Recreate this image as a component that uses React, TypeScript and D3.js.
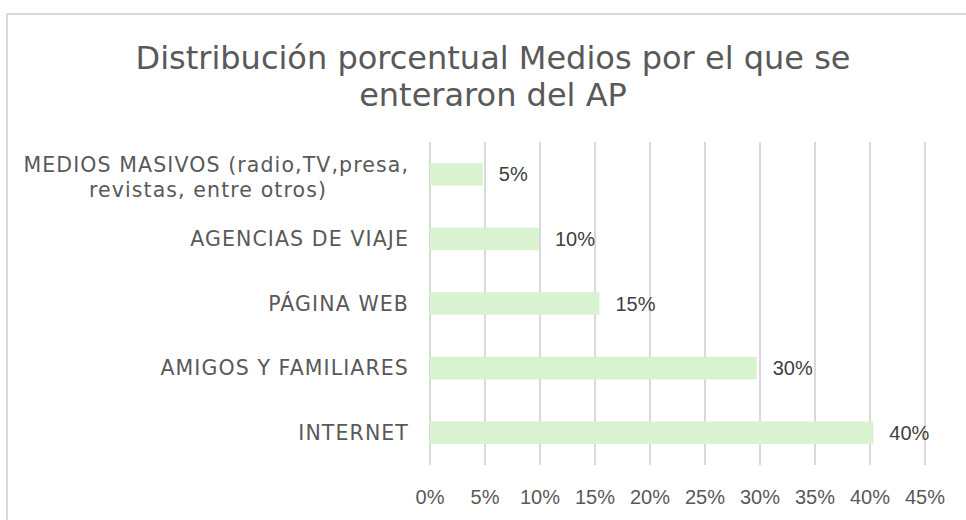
import React from "react";
import * as d3 from "d3";

const categories = [
  "MEDIOS MASIVOS (radio,TV,presa,|revistas, entre otros)",
  "AGENCIAS DE VIAJE",
  "PÁGINA WEB",
  "AMIGOS Y FAMILIARES",
  "INTERNET",
];
const values = [0.048, 0.099, 0.154, 0.297, 0.403];
const ticks = [0, 0.05, 0.1, 0.15, 0.2, 0.25, 0.3, 0.35, 0.4, 0.45];
const titleLines = ["Distribución porcentual Medios por el que se", "enteraron del AP"];

const W = 966;
const H = 520;
const plot = { left: 430, right: 925, top: 142, bottom: 465 };

export default function App() {
  const x = d3.scaleLinear().domain([0, 0.45]).range([plot.left, plot.right]);
  const y = d3
    .scaleBand<string>()
    .domain(categories)
    .range([plot.top, plot.bottom])
    .paddingInner(0.65)
    .paddingOuter(0.325);
  const pct = d3.format(".0%");
  const textGray = "#595959";
  const catFont = "'DejaVu Sans', Verdana, sans-serif";
  const numFont = "'Liberation Sans', Arial, sans-serif";

  return (
    <svg
      width={W}
      height={H}
      style={{ position: "absolute", left: 0, top: 0, background: "#fff" }}
    >
      <rect x={7} y={14} width={W + 20} height={H + 20} fill="#fff" stroke="#d9d9d9" strokeWidth={2} />
      {titleLines.map((t, i) => (
        <text
          key={i}
          x={493}
          y={69 + i * 37}
          textAnchor="middle"
          fontFamily={catFont}
          fontSize={32}
          fill={textGray}
        >
          {t}
        </text>
      ))}
      {ticks.map((t) => (
        <g key={t}>
          <line
            x1={x(t)}
            x2={x(t)}
            y1={plot.top}
            y2={plot.bottom}
            stroke="#d9d9d9"
            strokeWidth={2}
          />
          <text
            x={x(t)}
            y={504}
            textAnchor="middle"
            fontFamily={numFont}
            fontSize={20}
            fill={textGray}
          >
            {pct(t)}
          </text>
        </g>
      ))}
      {categories.map((c, i) => {
        const yc = (y(c) as number) + y.bandwidth() / 2;
        const lines = c.split("|");
        return (
          <g key={c}>
            <rect
              x={x(0)}
              y={y(c)}
              width={x(values[i]) - x(0)}
              height={y.bandwidth()}
              fill="#d9f2d0"
            />
            <text
              x={x(values[i]) + 16}
              y={yc + 7}
              fontFamily={numFont}
              fontSize={20}
              fill="#404040"
            >
              {pct(values[i])}
            </text>
            {lines.length === 1 ? (
              <text
                x={409}
                y={yc + 7}
                textAnchor="end"
                fontFamily={catFont}
                fontSize={20.5}
                letterSpacing={1.1}
                fill={textGray}
              >
                {c}
              </text>
            ) : (
              lines.map((l, j) => (
                <text
                  key={j}
                  x={j === 0 ? 409 : 208}
                  y={yc - 2 + j * 24.5}
                  textAnchor={j === 0 ? "end" : "middle"}
                  fontFamily={catFont}
                  fontSize={20.5}
                  letterSpacing={1.1}
                  fill={textGray}
                >
                  {l}
                </text>
              ))
            )}
          </g>
        );
      })}
    </svg>
  );
}
